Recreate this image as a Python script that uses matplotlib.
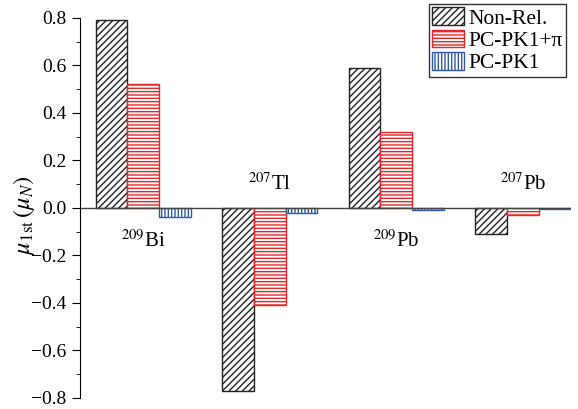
import numpy as np
import matplotlib
matplotlib.use("Agg")
import matplotlib.pyplot as plt
from matplotlib.ticker import MultipleLocator

plt.rcParams['font.family'] = ['Liberation Serif', 'DejaVu Serif']
plt.rcParams['mathtext.fontset'] = 'stix'
plt.rcParams['hatch.linewidth'] = 1.0

# Data
nuclei = ["$^{209}$Bi", "$^{207}$Tl", "$^{209}$Pb", "$^{207}$Pb"]
non_rel = [0.79, -0.77, 0.59, -0.11]
pc_pk1_pi = [0.52, -0.41, 0.32, -0.03]
pc_pk1 = [-0.04, -0.02, -0.01, -0.005]
series_names = ["Non-Rel.", "PC-PK1+\u03c0", "PC-PK1"]
yticks = [-0.8, -0.6, -0.4, -0.2, 0.0, 0.2, 0.4, 0.6, 0.8]

fig = plt.figure(figsize=(5.78, 4.09), dpi=100)
ax = fig.add_axes([0.138, 0.027, 0.85, 0.929])

x = np.arange(len(nuclei))
w = 0.25
ax.bar(x - w, non_rel, w, facecolor="white", edgecolor="#222222", hatch="/////", lw=1.0, label=series_names[0])
ax.bar(x, pc_pk1_pi, w, facecolor="white", edgecolor="#e8262a", hatch="-----", lw=1.0, label=series_names[1])
ax.bar(x + w, pc_pk1, w, facecolor="white", edgecolor="#2e5aa8", hatch="|||||", lw=1.0, label=series_names[2])

ax.axhline(0, color="#444444", lw=1.0)

# nucleus labels: above axis for negative groups, below for positive
for i, name in enumerate(nuclei):
    if non_rel[i] > 0:
        ax.text(x[i], -0.14, name, ha="center", va="center", fontsize=15)
    else:
        ax.text(x[i], 0.10, name, ha="center", va="center", fontsize=15)

ax.set_xlim(-0.5, 3.38)
ax.set_ylim(-0.8, 0.8)
ax.set_xticks([])
ax.yaxis.set_minor_locator(MultipleLocator(0.1))
ax.set_yticks(yticks)
ax.set_yticklabels([f"{v:.1f}".replace("-", "\u2212") for v in yticks])
ax.tick_params(axis="y", which="major", direction="out", length=6, labelsize=14)
ax.tick_params(axis="y", which="minor", direction="out", length=3)
for s in ["top", "right", "bottom"]:
    ax.spines[s].set_visible(False)

ax.set_ylabel(r"$\mu_{1\mathrm{st}}\,(\mu_N)$", fontsize=17.5)
ax.yaxis.set_label_coords(-0.088, 0.48)

leg = ax.legend(loc="upper right", fontsize=15.5, frameon=True, fancybox=False,
                edgecolor="black", handlelength=1.5, handleheight=0.9,
                borderpad=0.15, labelspacing=0.05, handletextpad=0.2,
                borderaxespad=0.0, bbox_to_anchor=(0.99, 1.037))
leg.get_frame().set_linewidth(1.0)

fig.savefig("out.png", dpi=100)
